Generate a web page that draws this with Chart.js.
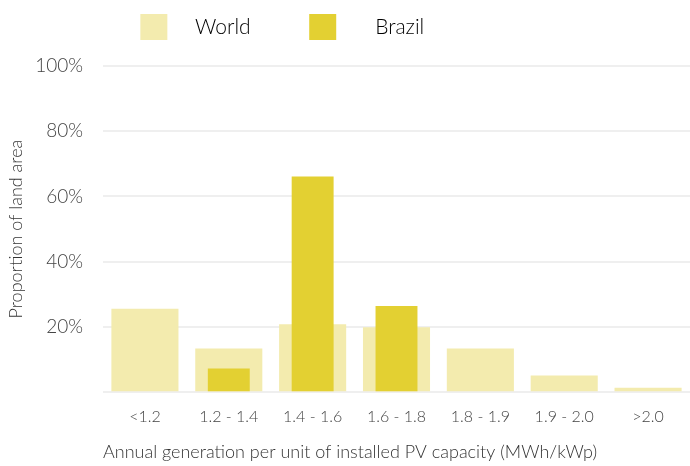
<!DOCTYPE html>
<html>
<head>
<meta charset="utf-8">
<script src="https://cdn.jsdelivr.net/npm/chart.js@4/dist/chart.umd.min.js"></script>
<style>
  html, body { margin: 0; padding: 0; background: #fff; }
  #wrap { width: 690px; height: 466px; }
</style>
</head>
<body>
<div id="wrap"><canvas id="chart" width="690" height="466"></canvas></div>
<script>
// categorieen en waarden (aandeel landoppervlak, %)
const categories = ['<1.2', '1.2 - 1.4', '1.4 - 1.6', '1.6 - 1.8', '1.8 - 1.9', '1.9 - 2.0', '>2.0'];
const worldValues = [25.6, 13.4, 20.8, 19.9, 13.4, 5.1, 1.4];
const brazilValues = [0.3, 7.3, 66.1, 26.4, 0.3, 0, 0];
const yTicks = [0, 20, 40, 60, 80, 100];

const fontFamily = 'Lato, "Open Sans", sans-serif';
const ctx = document.getElementById('chart');

// extra ruimte onder de legenda
const legendSpace = {
    id: 'legendSpace',
    beforeInit(chart) {
        const origFit = chart.legend.fit;
        chart.legend.fit = function () {
            origFit.bind(chart.legend)();
            this.height += 16;
        };
    }
};

new Chart(ctx, {
    type: 'bar',
    data: {
        labels: categories,
        datasets: [{
            label: 'World',
            data: worldValues,
            backgroundColor: '#F3EBAE',
            barPercentage: 0.8,
            categoryPercentage: 1,
            grouped: false,
            order: 2
        }, {
            label: 'Brazil',
            data: brazilValues,
            backgroundColor: '#E3D032',
            barPercentage: 0.5,
            categoryPercentage: 1,
            grouped: false,
            order: 1
        }]
    },
    plugins: [legendSpace],
    options: {
        responsive: false,
        animation: false,
        layout: { padding: { left: 0, right: 0, top: 1, bottom: 3 } },
        plugins: {
            tooltip: { enabled: false },
            legend: {
                position: 'top',
                labels: {
                    boxWidth: 27,
                    boxHeight: 26,
                    padding: 13,
                    color: '#555',
                    font: { family: fontFamily, size: 21, weight: 300 },
                    // extra spaties om de afstanden van het origineel na te bootsen
                    generateLabels: function (chart) {
                        const texts = ['   World        ', '     Brazil                      '];
                        return chart.data.datasets.map((ds, i) => ({
                            text: texts[i],
                            fillStyle: ds.backgroundColor,
                            strokeStyle: ds.backgroundColor,
                            lineWidth: 0,
                            hidden: false,
                            datasetIndex: i
                        }));
                    }
                }
            }
        },
        scales: {
            x: {
                grid: { display: false },
                border: { display: false },
                ticks: {
                    color: '#444',
                    padding: 7,
                    font: { family: fontFamily, size: 16, weight: 300 }
                },
                title: {
                    display: true,
                    align: 'start',
                    text: 'Annual generation per unit of installed PV capacity (MWh/kWp)',
                    color: '#333',
                    padding: { top: 8, bottom: 0 },
                    font: { family: fontFamily, size: 18, weight: 300 }
                }
            },
            y: {
                min: 0,
                max: 100,
                border: { display: false },
                grid: { color: '#EFEFEF', lineWidth: 2, drawTicks: false },
                afterBuildTicks: function (axis) {
                    axis.ticks = yTicks.map(v => ({ value: v }));
                },
                afterFit: function (axis) {
                    axis.width = 103;
                },
                ticks: {
                    color: '#444',
                    padding: 20,
                    font: { family: fontFamily, size: 19, weight: 300 },
                    callback: function (value) {
                        return value === 0 ? '' : value + '%';
                    }
                },
                title: {
                    display: true,
                    text: 'Proportion of land area',
                    color: '#333',
                    padding: { top: 5, bottom: 0 },
                    font: { family: fontFamily, size: 18, weight: 300 }
                }
            }
        }
    }
});
</script>
</body>
</html>
